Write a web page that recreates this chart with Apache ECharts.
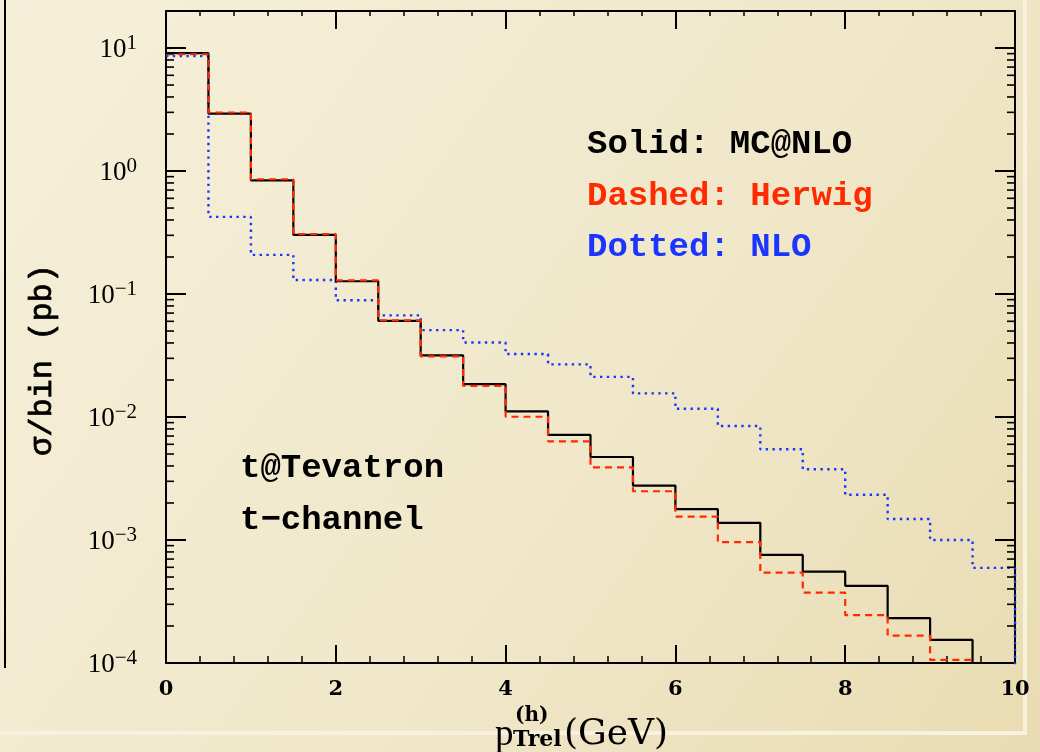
<!DOCTYPE html>
<html>
<head>
<meta charset="utf-8">
<script src="https://cdn.jsdelivr.net/npm/echarts@6/dist/echarts.min.js"></script>
<style>
html,body{margin:0;padding:0;background:#f1e9cf;}
#main{width:1040px;height:752px;}
</style>
</head>
<body>
<div id="main"></div>
<script>
// Bin left edges (GeV), bin width 0.5
const binEdges = [0,0.5,1,1.5,2,2.5,3,3.5,4,4.5,5,5.5,6,6.5,7,7.5,8,8.5,9,9.5];
const xEnd = 10;
// Solid: MC@NLO (pb/bin); last bin below the plotted range
const mcnlo  = [9.1,2.93,0.84,0.303,0.127,0.0605,0.0317,0.0185,0.0111,0.00715,0.00473,0.00277,0.00178,0.00138,0.000757,0.000553,0.000424,0.000232,0.000154,0.00005];
// Dashed: Herwig
const herwig = [8.9,2.99,0.857,0.307,0.129,0.061,0.0311,0.0179,0.01005,0.00634,0.0039,0.00249,0.00155,0.00096,0.000543,0.000374,0.000245,0.000167,0.000106,0.00005];
// Dotted: NLO
const nlo    = [8.6,0.424,0.208,0.130,0.0891,0.0670,0.0509,0.0404,0.0325,0.0268,0.0212,0.01556,0.01167,0.00845,0.00547,0.00376,0.00233,0.00148,0.00100,0.000593];
const nloEndValue = 0.00005;
// Axis ticks
const xTicks = [0,2,4,6,8,10];
const yDecades = [-4,-3,-2,-1,0,1];
const minorMultipliers = [2,3,4,5,6,7,8,9];
const yMin = 1e-4, yMax = 20;

function stepData(vals, endVal) {
  const d = binEdges.map((x, i) => [x, vals[i]]);
  d.push([xEnd, endVal !== undefined ? endVal : vals[vals.length - 1]]);
  return d;
}
const minorVals = [];
yDecades.forEach(k => minorMultipliers.forEach(m => {
  const v = m * Math.pow(10, k);
  if (v < yMax) minorVals.push([0, v]);
}));

const monoFont = '"Liberation Mono", "DejaVu Sans Mono", monospace';
const serifFont = '"Liberation Serif", "DejaVu Serif", serif';
const dvSerif = '"DejaVu Serif", serif';

function yLabel(v) {
  const l = Math.log10(v);
  const e = Math.round(l);
  if (Math.abs(l - e) > 1e-6 || yDecades.indexOf(e) < 0) return '';
  return '{b|10}{s|' + (e < 0 ? '\u2212' + (-e) : String(e)) + '}';
}

const chart = echarts.init(document.getElementById('main'));
const axisLineStyle = {color: '#000', width: 2};
const baseX = {
  type: 'value', min: 0, max: 10, interval: 2,
  axisLine: {show: true, lineStyle: axisLineStyle, onZero: false},
  axisTick: {show: true, inside: true, length: 18, lineStyle: {color: '#000', width: 2}},
  minorTick: {show: true, splitNumber: 5, length: 7, lineStyle: {color: '#000', width: 1.5}},
  splitLine: {show: false}, minorSplitLine: {show: false}
};
const baseY = {
  type: 'log', logBase: 10, min: yMin, max: yMax,
  axisLine: {show: true, lineStyle: axisLineStyle, onZero: false},
  axisTick: {show: true, inside: true, length: 20, lineStyle: {color: '#000', width: 2}},
  minorTick: {show: false},
  splitLine: {show: false}
};
const txtWeight = 'bold';

chart.setOption({
  animation: false,
  backgroundColor: 'transparent',
  graphic: [
    {type: 'rect', z: -10, silent: true, shape: {x: 0, y: 0, width: 1040, height: 752},
     style: {fill: new echarts.graphic.LinearGradient(0, 0, 1, 1, [
       {offset: 0, color: '#f6f0da'}, {offset: 0.6, color: '#f0e7c9'}, {offset: 1, color: '#e9dcb2'}])}},
    {type: 'line', z: -9, silent: true, shape: {x1: 1025, y1: 0, x2: 1025, y2: 733}, style: {stroke: '#f7f1de', lineWidth: 4}},
    {type: 'line', z: -9, silent: true, shape: {x1: 0, y1: 733, x2: 1027, y2: 733}, style: {stroke: '#f7f1de', lineWidth: 4}},
    {type: 'line', z: -8, silent: true, shape: {x1: 5, y1: 0, x2: 5, y2: 668}, style: {stroke: '#000', lineWidth: 2}},
    {type: 'text', left: 587, top: 127, style: {text: 'Solid: MC@NLO', fill: '#000', font: txtWeight + ' 34px ' + monoFont}},
    {type: 'text', left: 587, top: 179, style: {text: 'Dashed: Herwig', fill: '#ff2a00', font: txtWeight + ' 34px ' + monoFont}},
    {type: 'text', left: 587, top: 230, style: {text: 'Dotted: NLO', fill: '#1a35ff', font: txtWeight + ' 34px ' + monoFont}},
    {type: 'text', left: 240, top: 451, style: {text: 't@Tevatron', fill: '#000', font: txtWeight + ' 34px ' + monoFont}},
    {type: 'text', left: 240, top: 503, style: {text: 't\u2212channel', fill: '#000', font: txtWeight + ' 34px ' + monoFont}},
    {type: 'text', x: 43, y: 360, rotation: Math.PI / 2,
     style: {text: '\u03c3/bin (pb)', fill: '#000', font: '32px ' + monoFont, align: 'center', verticalAlign: 'middle', stroke: '#000', lineWidth: 0.8}},
    {type: 'text', x: 495, y: 717, style: {text: 'p', fill: '#000', font: '37px ' + serifFont, verticalAlign: 'top'}},
    {type: 'text', x: 515, y: 706, style: {text: '(h)', fill: '#000', font: 'bold 20px ' + dvSerif, verticalAlign: 'top'}},
    {type: 'text', x: 513, y: 729, style: {text: 'Trel', fill: '#000', font: 'bold 22px ' + dvSerif, verticalAlign: 'top'}},
    {type: 'text', x: 564, y: 717, style: {text: '(GeV)', fill: '#000', font: '36px ' + dvSerif, verticalAlign: 'top'}}
  ],
  grid: {left: 166, right: 25, top: 11, bottom: 89, containLabel: false},
  xAxis: [
    Object.assign({}, baseX, {
      position: 'bottom',
      axisLabel: {show: true, margin: 16, color: '#000', fontSize: 21, fontWeight: 'bold', fontFamily: dvSerif,
        formatter: v => xTicks.indexOf(v) >= 0 ? String(v) : ''}
    }),
    Object.assign({}, baseX, {position: 'top', axisLabel: {show: false},
      axisTick: {show: true, inside: true, length: 18, lineStyle: {color: '#000', width: 2}},
      minorTick: {show: true, splitNumber: 5, length: 5, lineStyle: {color: '#000', width: 1.5}}})
  ],
  yAxis: [
    Object.assign({}, baseY, {
      position: 'left',
      axisLabel: {show: true, margin: 29, formatter: yLabel, showMaxLabel: false,
        rich: {
          b: {fontSize: 27, fontFamily: serifFont, color: '#000', lineHeight: 30, verticalAlign: 'bottom'},
          s: {fontSize: 21, fontFamily: serifFont, color: '#000', verticalAlign: 'top', lineHeight: 18}
        }}
    }),
    Object.assign({}, baseY, {position: 'right', axisLabel: {show: false}})
  ],
  series: [
    {type: 'custom', xAxisIndex: 0, yAxisIndex: 0, z: 5, silent: true, clip: false,
     data: minorVals,
     renderItem: (params, api) => {
       const v = api.value(1);
       const pl = api.coord([0, v]);
       const pr = api.coord([10, v]);
       return {type: 'group', children: [
         {type: 'line', shape: {x1: pl[0], y1: pl[1], x2: pl[0] + 8, y2: pl[1]}, style: {stroke: '#000', lineWidth: 1.6}},
         {type: 'line', shape: {x1: pr[0] - 8, y1: pr[1], x2: pr[0], y2: pr[1]}, style: {stroke: '#000', lineWidth: 1.6}}
       ]};
     }},
    {name: 'NLO', type: 'line', step: 'end', showSymbol: false, symbol: 'none', clip: true, z: 3,
     data: stepData(nlo, nloEndValue),
     lineStyle: {color: '#1a35ff', width: 2.4, type: [2.4, 4.4], cap: 'butt'}},
    {name: 'MC@NLO', type: 'line', step: 'end', showSymbol: false, symbol: 'none', clip: true, z: 4,
     data: stepData(mcnlo),
     lineStyle: {color: '#000', width: 2.2, type: 'solid'}},
    {name: 'Herwig', type: 'line', step: 'end', showSymbol: false, symbol: 'none', clip: true, z: 4,
     data: stepData(herwig),
     lineStyle: {color: '#ff2a00', width: 2.2, type: [7, 5]}}
  ]
});
</script>
</body>
</html>
